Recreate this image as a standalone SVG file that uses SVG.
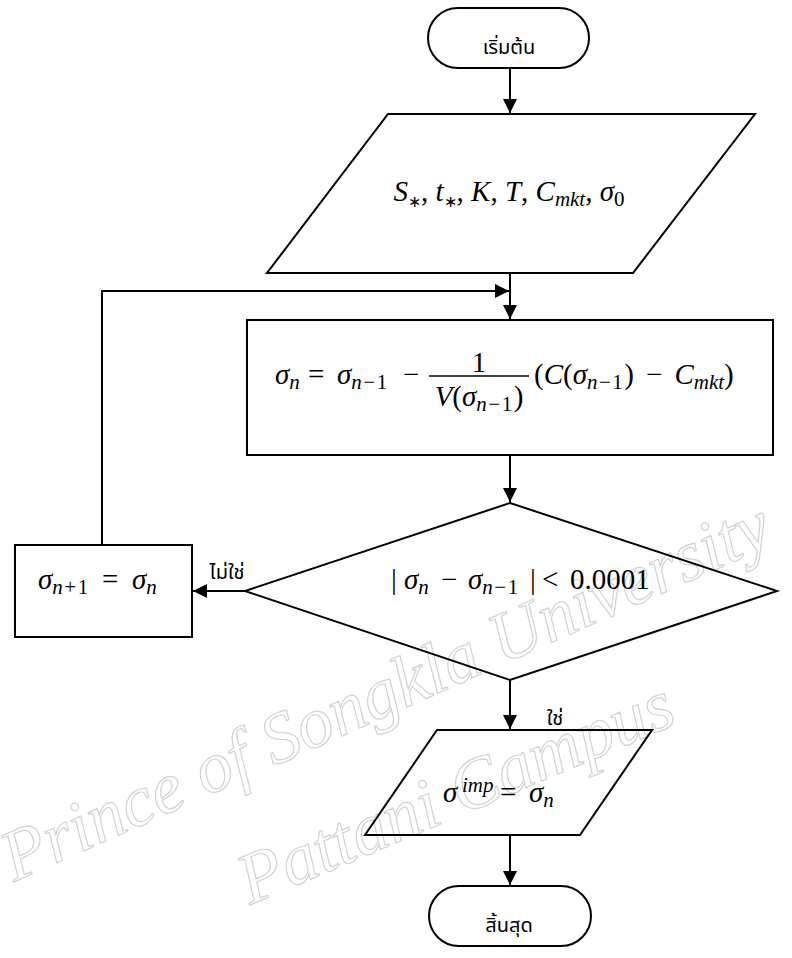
<svg xmlns="http://www.w3.org/2000/svg" width="792" height="958" viewBox="0 0 792 958">
<defs>
<style>
.shape{fill:#fff;stroke:#000;stroke-width:2}
.ln{fill:none;stroke:#000;stroke-width:2}
.th{font-family:"Noto Sans Thai","Noto Sans","DejaVu Sans",sans-serif;font-size:20px;fill:#000}
.m{font-family:"Liberation Serif","Times New Roman",serif;font-style:italic;font-size:29px;fill:#000}
.u{font-style:normal}
.s{font-size:21px}
.ast{font-size:16px;font-style:normal}
.ls{letter-spacing:1.5px}
.wm{font-family:"Liberation Serif",serif;font-style:italic;font-size:72px;fill:none;stroke:#d2d2d2;stroke-width:1.2}
</style>
<marker id="ah" markerUnits="userSpaceOnUse" markerWidth="14" markerHeight="14" refX="14" refY="7" orient="auto">
<path d="M0,0 L14,7 L0,14 z" fill="#000"/>
</marker>
</defs>
<rect width="792" height="958" fill="#fff"/>

<g id="watermark">
<text class="wm" transform="translate(14,882) rotate(-24)">Prince of Songkla University</text>
<text class="wm" transform="translate(250,905) rotate(-23)">Pattani Campus</text>
</g>

<g id="connectors">
<line class="ln" x1="510" y1="68" x2="510" y2="113" marker-end="url(#ah)"/>
<line class="ln" x1="510" y1="273" x2="510" y2="319" marker-end="url(#ah)"/>
<path class="ln" d="M102,545 V291 H509" marker-end="url(#ah)"/>
<line class="ln" x1="510" y1="455" x2="510" y2="502" marker-end="url(#ah)"/>
<line class="ln" x1="245" y1="591" x2="193" y2="591" marker-end="url(#ah)"/>
<line class="ln" x1="510" y1="680" x2="510" y2="729" marker-end="url(#ah)"/>
<line class="ln" x1="510" y1="835" x2="510" y2="885" marker-end="url(#ah)"/>
<text class="th" x="227" y="579" text-anchor="middle">ไม่ใช่</text>
<text class="th" x="555" y="725" text-anchor="middle">ใช่</text>
</g>

<g id="start">
<rect class="shape" x="428" y="8" width="161" height="60" rx="30" ry="30"/>
<text class="th" x="509" y="54" text-anchor="middle">เริ่มต้น</text>
</g>

<g id="input">
<polygon class="shape" points="388,114 755,114 633,273 267,273" fill-opacity="0"/>
<text class="m" x="509" y="201" text-anchor="middle">S<tspan class="ast" dy="6">∗</tspan><tspan class="u" dy="-6">, </tspan>t<tspan class="ast" dy="6">∗</tspan><tspan class="u" dy="-6">, </tspan>K<tspan class="u">, </tspan>T<tspan class="u">, </tspan>C<tspan class="s" dy="5">mkt</tspan><tspan class="u" dy="-5">, </tspan>σ<tspan class="u s" dy="5">0</tspan></text>
</g>

<g id="update">
<rect class="shape" x="247" y="320" width="526" height="135" fill-opacity="0"/>
<text class="m"><tspan x="275" y="384">σ</tspan><tspan class="s" y="389">n</tspan><tspan class="u" x="308" y="384">=</tspan><tspan x="337" y="384">σ</tspan><tspan class="s ls" y="389">n<tspan class="u">−1</tspan></tspan><tspan class="u" x="403" y="384">−</tspan></text>
<text class="m u" x="479" y="372" text-anchor="middle">1</text>
<line x1="429" y1="376" x2="529" y2="376" stroke="#000" stroke-width="1.5"/>
<text class="m" x="479" y="406" text-anchor="middle">V<tspan class="u">(</tspan>σ<tspan class="s ls" dy="5">n<tspan class="u">−1</tspan></tspan><tspan class="u" dy="-5">)</tspan></text>
<text class="m"><tspan class="u" x="534" y="384">(</tspan>C<tspan class="u">(</tspan>σ<tspan class="s ls" y="389">n<tspan class="u">−1</tspan></tspan><tspan class="u" y="384">)</tspan><tspan class="u" dx="12">−</tspan><tspan dx="12">C</tspan><tspan class="s" y="389">mkt</tspan><tspan class="u" y="384">)</tspan></text>
</g>

<g id="decision">
<polygon class="shape" points="510,503 777,591 510,680 245,591" fill-opacity="0"/>
<text class="m"><tspan class="u" x="391" y="589">|</tspan><tspan x="404" y="589">σ</tspan><tspan class="s" y="594">n</tspan><tspan class="u" x="441" y="589">−</tspan><tspan x="468" y="589">σ</tspan><tspan class="s ls" y="594">n<tspan class="u">−1</tspan></tspan><tspan class="u" x="530" y="589">|</tspan><tspan class="u" x="542" y="589">&lt;</tspan><tspan class="u" x="570" y="589">0.0001</tspan></text>
</g>

<g id="next">
<rect class="shape" x="15" y="545" width="177" height="92" fill-opacity="0"/>
<text class="m"><tspan x="38" y="589">σ</tspan><tspan class="s ls" y="594">n<tspan class="u">+1</tspan></tspan><tspan class="u" x="102" y="589">=</tspan><tspan x="132" y="589">σ</tspan><tspan class="s" y="594">n</tspan></text>
</g>

<g id="output">
<polygon class="shape" points="437,730 652,730 580,835 365,835" fill-opacity="0"/>
<text class="m"><tspan x="443" y="802">σ</tspan><tspan class="s" x="462" y="792">imp</tspan><tspan class="u" x="500" y="802">=</tspan><tspan x="529" y="802">σ</tspan><tspan class="s" y="807">n</tspan></text>
</g>

<g id="end">
<rect class="shape" x="429" y="886" width="162" height="60" rx="30" ry="30"/>
<text class="th" x="509" y="932" text-anchor="middle">สิ้นสุด</text>
</g>
</svg>
